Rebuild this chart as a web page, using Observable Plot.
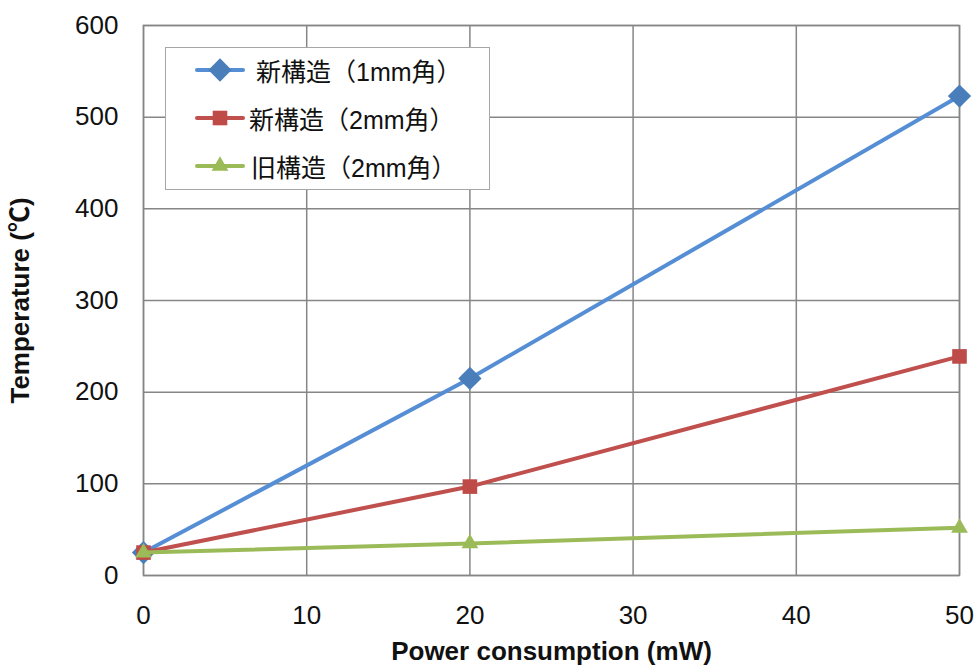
<!DOCTYPE html>
<html><head><meta charset="utf-8">
<script src="https://cdn.jsdelivr.net/npm/d3@7"></script>
<script src="https://cdn.jsdelivr.net/npm/@observablehq/plot@0.6"></script>
<style>
body{margin:0;background:#fff;}
#wrap{position:relative;width:979px;height:668px;font-family:"Liberation Sans",Arial,"Noto Sans CJK JP",sans-serif;}
#wrap svg{font-family:"Liberation Sans",Arial,"Noto Sans CJK JP",sans-serif;}
g[aria-label="y-axis label"] text, g[aria-label="x-axis label"] text{font-weight:bold;}
#legend{position:absolute;left:165px;top:47px;width:323px;height:141px;border:1.5px solid #a6a6a6;background:#fff;box-sizing:content-box;}
.row{position:absolute;left:0;height:30px;display:flex;align-items:center;}
.row svg{display:block;}
.row span{font-size:25px;color:#111;font-family:"Liberation Sans",Arial,"Noto Sans CJK JP",sans-serif;white-space:nowrap;}
</style></head><body><div id="wrap"></div>
<script>
const powerMW = [0, 20, 50];
const seriesNames = ["新構造（1mm角）", "新構造（2mm角）", "旧構造（2mm角）"];
const tempNew1mm = [25, 215, 523];
const tempNew2mm = [25, 97, 239];
const tempOld2mm = [25, 35, 52];
const xTicks = [0, 10, 20, 30, 40, 50];
const yTicks = [0, 100, 200, 300, 400, 500, 600];
const xTitle = "Power consumption (mW)";
const yTitle = "Temperature (℃)";

const seriesStyle = [
  {line: "#558ED5", fill: "#4A7EBB", symbol: "diamond2", d3sym: d3.symbolDiamond2, r: 10.5},
  {line: "#C0504D", fill: "#BE4B48", symbol: "square2", d3sym: d3.symbolSquare2, r: 9.3},
  {line: "#9BBB59", fill: "#9BBB59", symbol: "triangle2", d3sym: d3.symbolTriangle2, r: 8}
];
const seriesValues = [tempNew1mm, tempNew2mm, tempOld2mm];
const data = seriesValues.map((vals, i) => powerMW.map((x, j) => ({x, y: vals[j], s: seriesNames[i]})));

const marks = [
  Plot.gridX(xTicks, {stroke: "#868686", strokeOpacity: 1, strokeWidth: 1.5}),
  Plot.gridY(yTicks, {stroke: "#868686", strokeOpacity: 1, strokeWidth: 1.5}),
  Plot.frame({stroke: "#868686", strokeWidth: 1.5}),
  Plot.axisX(xTicks, {tickSize: 0, tickPadding: 30, fontSize: 26, label: xTitle, labelAnchor: "center", labelOffset: 84, labelArrow: "none"}),
  Plot.axisY(yTicks, {tickSize: 0, tickPadding: 25, fontSize: 26, label: yTitle, labelAnchor: "center", labelOffset: 133, labelArrow: "none"})
];
data.forEach((d, i) => {
  const st = seriesStyle[i];
  marks.push(Plot.line(d, {x: "x", y: "y", stroke: st.line, strokeWidth: 4}));
  marks.push(Plot.dot(d, {x: "x", y: "y", symbol: () => st.symbol, fill: st.fill, stroke: "none", r: st.r}));
});

const chart = Plot.plot({
  width: 979, height: 668,
  marginLeft: 143, marginRight: 20, marginTop: 25, marginBottom: 93,
  x: {domain: [0, 50]},
  y: {domain: [0, 600]},
  style: {fontSize: "26px", color: "#111", background: "#fff"},
  marks
});
document.getElementById("wrap").appendChild(chart);

// legend
const legend = document.createElement("div");
legend.id = "legend";
const rowTops = [7, 55, 103];
const textLeft = [90, 83, 85];
seriesNames.forEach((name, i) => {
  const st = seriesStyle[i];
  const row = document.createElement("div");
  row.className = "row";
  row.style.top = rowTops[i] + "px";
  const sym = d3.symbol(st.d3sym, Math.PI * st.r * st.r)();
  row.innerHTML = `<svg width="${textLeft[i]}" height="30"><line x1="31" x2="77" y1="15" y2="15" stroke="${st.line}" stroke-width="4" stroke-linecap="round"/><path d="${sym}" transform="translate(54,15)" fill="${st.fill}"/></svg><span>${name}</span>`;
  legend.appendChild(row);
});
document.getElementById("wrap").appendChild(legend);
</script>
</body></html>
